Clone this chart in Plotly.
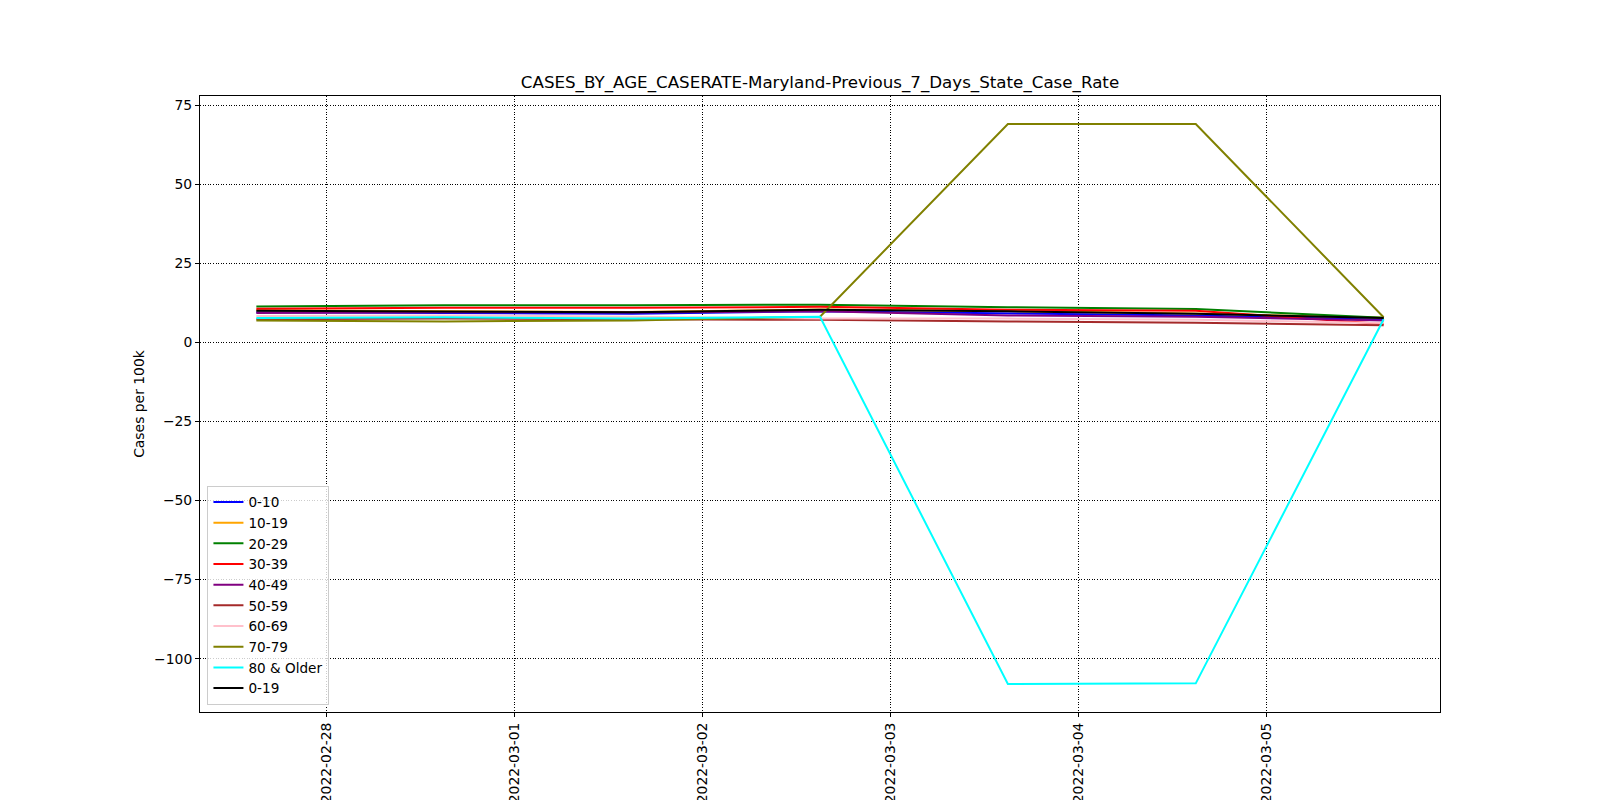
import plotly.graph_objects as go

dates = ["2022-02-27 15:00", "2022-02-28 15:00", "2022-03-01 15:00", "2022-03-02 15:00",
         "2022-03-03 15:00", "2022-03-04 15:00", "2022-03-05 15:00"]

age_0_10 = [9.5, 9.3, 9.0, 9.8, 9.1, 8.5, 7.3]
age_10_19 = [10.1, 9.9, 9.6, 10.4, 9.9, 9.1, 7.8]
age_20_29 = [11.3, 11.7, 11.7, 11.9, 11.1, 10.5, 7.8]
age_30_39 = [10.6, 10.9, 10.9, 11.2, 10.3, 10.0, 5.8]
age_40_49 = [9.3, 9.5, 9.4, 9.8, 8.5, 8.1, 6.9]
age_50_59 = [7.3, 7.5, 7.3, 7.1, 6.6, 6.2, 5.4]
age_60_69 = [8.3, 8.5, 8.1, 7.5, 7.5, 7.1, 6.1]
age_70_79 = [6.9, 6.6, 6.9, 8.1, 69.0, 69.0, 7.9]
age_80_plus = [7.7, 7.9, 7.5, 8.1, -108.0, -107.8, 7.3]
age_0_19 = [10.0, 9.8, 9.5, 10.3, 9.8, 9.0, 7.7]

series_names = ["0-10", "10-19", "20-29", "30-39", "40-49", "50-59", "60-69", "70-79", "80 & Older", "0-19"]
series_values = [age_0_10, age_10_19, age_20_29, age_30_39, age_40_49, age_50_59,
                 age_60_69, age_70_79, age_80_plus, age_0_19]
series_colors = ["blue", "orange", "#008000", "red", "#800080", "#a52a2a", "#ffc0cb",
                 "#808000", "#00ffff", "black"]

tick_dates = ["2022-02-28", "2022-03-01", "2022-03-02", "2022-03-03", "2022-03-04", "2022-03-05"]

fig = go.Figure()
for name, vals, col in zip(series_names, series_values, series_colors):
    fig.add_trace(go.Scatter(x=dates, y=vals, mode="lines", name=name,
                             line=dict(color=col, width=2)))

font_family = "DejaVu Sans"
fig.update_layout(
    width=1592, height=792,
    paper_bgcolor="white", plot_bgcolor="white",
    margin=dict(l=192, r=160, t=88, b=88, autoexpand=False),
    font=dict(family=font_family, size=14, color="black"),
    title=dict(text="CASES_BY_AGE_CASERATE-Maryland-Previous_7_Days_State_Case_Rate",
               x=0.5, xref="paper", xanchor="center",
               y=1 - 74 / 792, yref="container", yanchor="middle",
               font=dict(family=font_family, size=16.7, color="black")),
    showlegend=True,
    legend=dict(x=0.006, y=0.012, xanchor="left", yanchor="bottom",
                bgcolor="rgba(255,255,255,0.8)", bordercolor="#cccccc", borderwidth=1,
                font=dict(family=font_family, size=13.6, color="black"),
                tracegroupgap=0, itemwidth=30),
)
fig.update_xaxes(
    type="date", range=["2022-02-27 07:48", "2022-03-05 22:12"],
    tickvals=tick_dates, ticktext=tick_dates, tickangle=-90,
    showgrid=True, gridcolor="black", gridwidth=0.8, griddash="1px,1.6px",
    showline=True, linecolor="black", linewidth=1, mirror=True,
    ticks="outside", ticklen=4, tickcolor="black", zeroline=False,
    tickfont=dict(family=font_family, size=13.9), automargin=False,
)
fig.update_yaxes(
    range=[-116.85, 77.85], tickvals=[-100, -75, -50, -25, 0, 25, 50, 75],
    showgrid=True, gridcolor="black", gridwidth=0.8, griddash="1px,1.6px",
    showline=True, linecolor="black", linewidth=1, mirror=True,
    ticks="outside", ticklen=4, tickcolor="black", zeroline=False,
    tickfont=dict(family=font_family, size=13.9), automargin=False,
    title=dict(text="Cases per 100k", font=dict(family=font_family, size=13.9), standoff=6),
)

fig.write_html("out.html")
